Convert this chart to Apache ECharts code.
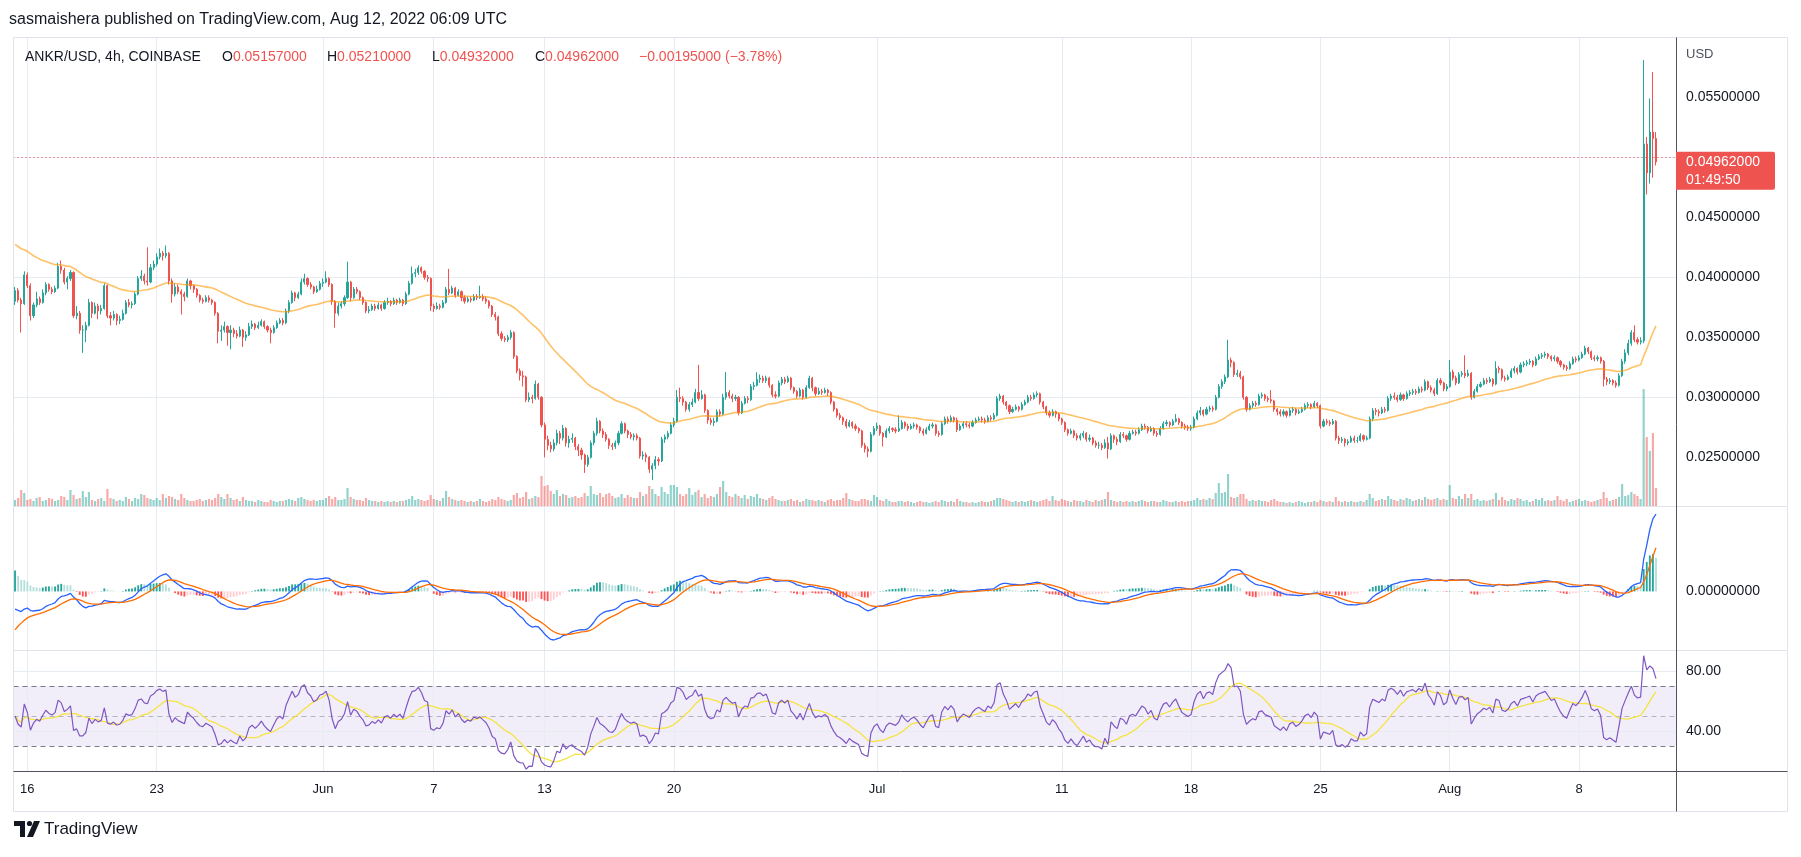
<!DOCTYPE html>
<html><head><meta charset="utf-8">
<script src="https://cdn.jsdelivr.net/npm/echarts@6.0.0/dist/echarts.min.js"></script>
<style>html,body{margin:0;padding:0;background:#fff;}#c{width:1801px;height:857px;}</style>
</head><body><div id="c"></div>
<script>
// ---------------- DATA (prices in 1e-5 USD, 4h candles from 2022-05-15 08:00 UTC) ----------------
const startUTC = '2022-05-15T08:00:00Z';
const firstOpen = 3800;
const closes = [
3890,3810,3780,4020,
3930,3680,3770,3820,3790,3870, 3940,3900,3880,3910,4090,4060, 3960,3990,4040,3680,3700,3560,
3560,3600,3790,3700,3760,3720, 3740,3930,3680,3660,3690,3640, 3650,3700,3790,3770,3780,3860,
3990,4010,3970,3960,4080,4110, 4170,4200,4180,4200,3970,3860, 3920,3880,3860,3840,3970,3930,
3900,3850,3810,3800,3830,3810, 3790,3700,3550,3560,3590,3540, 3560,3530,3510,3560,3500,3520,
3590,3610,3580,3600,3630,3590, 3560,3540,3580,3620,3640,3620, 3720,3790,3870,3830,3860,3960,
3990,3940,3920,3880,3900,3950,
3960,3990,3940,3800,3700,3760, 3780,3830,3960,3830,3900,3880, 3830,3790,3720,3730,3760,3740,
3770,3740,3790,3800,3780,3810, 3790,3810,3780,3860,3950,4030, 4040,4080,4050,4000,3990,3760,
3740,3760,3750,3790,3900,3870, 3910,3850,3880,3830,3800,3820, 3810,3840,3830,3840,3820,3800,
3760,3690,3670,3530,3490,3480, 3500,3540,3340,3220,3180,3170, 2980,3000,2990,3110,3000,2770,
2650,2600,2570,2620,2700,2660, 2740,2620,2650,2660,2590,2560, 2520,2440,2500,2620,2700,2800,
2720,2690,2650,2600,2590,2620, 2700,2780,2720,2690,2670,2680, 2660,2510,2520,2500,2400,2430,
2480,2470,2650,2670,2700,2770, 2800,3000,2990,2960,2900,2940, 2960,3040,2990,3020,2890,2810,
2790,2800,2880,2860,3000,3040, 3010,2990,3000,2870,2950,2990, 2980,3090,3100,3150,3160,3140,
3160,3100,3020,3010,3120,3150, 3130,3160,3080,3050,3010,3060, 3000,3080,3160,3080,3030,3050,
3040,3060,3040,2960,2900,2850, 2830,2800,2760,2790,2760,2740, 2720,2600,2570,2550,2690,2740,
2760,2700,2670,2720,2740,2730, 2720,2740,2790,2760,2740,2760, 2770,2750,2720,2700,2730,2760,
2770,2700,2690,2780,2820,2800, 2830,2810,2730,2760,2780,2770, 2760,2790,2810,2820,2810,2800,
2830,2820,2850,2990,3010,2960, 2930,2880,2900,2920,2900,2940, 2960,3000,2990,3020,3030,2960,
2920,2870,2850,2880,2860,2820, 2790,2730,2700,2720,2680,2660, 2680,2700,2650,2660,2620,2600,
2600,2580,2620,2570,2680,2650, 2630,2690,2680,2650,2700,2710, 2700,2730,2760,2750,2720,2740,
2700,2690,2740,2780,2790,2770, 2800,2820,2790,2760,2750,2740, 2750,2820,2870,2890,2860,2900,
2910,2900,3000,3090,3130,3170, 3310,3290,3190,3200,3170,3000, 2900,2930,2950,2940,3010,3020,
2990,2980,2970,2900,2880,2860, 2880,2850,2890,2900,2870,2880, 2900,2930,2940,2920,2950,2930,
2760,2800,2790,2780,2800,2660, 2640,2650,2620,2630,2660,2640, 2640,2680,2650,2660,2820,2890,
2880,2870,2900,2890,2990,3010, 3000,2980,3020,2990,3030,3040, 3050,3040,3070,3060,3130,3080,
3060,3030,3140,3120,3070,3090,
3210,3160,3120,3190,3200,3180, 3200,3000,3050,3090,3110,3140, 3130,3150,3110,3240,3230,3160,
3150,3170,3220,3240,3210,3270, 3280,3290,3300,3270,3320,3340, 3350,3360,3340,3320,3330,3300,
3270,3250,3240,3280,3320,3310, 3330,3360,3410,3380,3330,3320, 3330,3300,3150,3130,3140,3120,
3100,3180,3300,3370,3450,3540, 3480,3460,3470,5110,4870,5210,
5157,4962];
const highs = [
3920,3910,3830,4050,
4040,3950,3790,3880,3840,3900, 3960,3950,3920,3930,4120,4140, 4080,4010,4060,4050,3760,3720,
3600,3630,3820,3800,3790,3780, 3770,3950,3940,3710,3720,3700, 3680,3730,3810,3820,3800,3880,
4010,4060,4030,4250,4110,4140, 4200,4240,4220,4265,4210,3990, 3950,3940,3900,3880,3990,3980,
3940,3910,3860,3830,3850,3850, 3820,3800,3710,3600,3630,3600, 3600,3580,3560,3590,3570,3550,
3620,3640,3620,3630,3650,3640, 3600,3580,3600,3640,3660,3660, 3740,3810,3890,3880,3880,3990,
4030,4000,3960,3930,3930,3970,
3990,4050,4000,3950,3810,3790, 3800,3850,4130,3970,3920,3920, 3890,3840,3800,3760,3780,3780,
3790,3780,3810,3830,3810,3830, 3820,3830,3820,3880,3970,4090, 4070,4100,4090,4060,4020,4000,
3780,3790,3780,3810,3920,4070, 3930,3920,3900,3890,3850,3840, 3840,3860,3860,3930,3860,3840,
3810,3770,3710,3680,3550,3510, 3520,3560,3550,3350,3240,3220, 3180,3040,3020,3140,3120,3010,
2790,2680,2630,2650,2730,2720, 2770,2750,2680,2700,2670,2610, 2580,2530,2520,2640,2720,2830,
2810,2740,2710,2660,2620,2640, 2720,2800,2790,2730,2710,2700, 2700,2670,2550,2540,2510,2450,
2510,2500,2670,2690,2720,2790, 2830,3060,3080,3010,2970,2960, 2990,3070,3270,3060,3030,2900,
2830,2830,2900,2900,3030,3210, 3060,3030,3020,3010,2970,3010, 3010,3110,3130,3210,3190,3180,
3180,3170,3110,3050,3140,3170, 3170,3180,3170,3090,3060,3080, 3070,3100,3180,3170,3090,3080,
3070,3080,3070,3050,2970,2910, 2870,2840,2820,2810,2800,2780, 2750,2730,2620,2590,2710,2760,
2790,2770,2710,2740,2760,2750, 2750,2850,2810,2800,2780,2780, 2790,2780,2760,2740,2750,2780,
2790,2780,2720,2800,2840,2840, 2850,2840,2830,2780,2800,2800, 2790,2810,2830,2840,2840,2830,
2850,2850,2870,3010,3030,3020, 2970,2940,2920,2940,2930,2960, 2980,3020,3020,3040,3050,3040,
2970,2930,2890,2900,2890,2870, 2830,2800,2740,2740,2730,2700, 2700,2720,2710,2690,2670,2640,
2630,2620,2650,2670,2700,2690, 2670,2710,2710,2690,2720,2730, 2730,2750,2780,2780,2760,2760,
2750,2720,2760,2800,2810,2800, 2820,2860,2830,2800,2780,2770, 2770,2840,2890,2920,2900,2920,
2930,2930,3020,3110,3150,3190, 3480,3330,3300,3230,3220,3180, 3010,2950,2970,2970,3030,3040,
3030,3010,3060,2980,2910,2900, 2900,2890,2910,2920,2910,2900, 2920,2950,2960,2950,2970,2960,
2940,2820,2820,2810,2820,2810, 2680,2670,2660,2650,2680,2680, 2670,2700,2690,2680,2840,2910,
2910,2900,2920,2920,3010,3030, 3040,3020,3040,3030,3050,3060, 3070,3070,3090,3090,3150,3140,
3100,3080,3160,3160,3130,3110,
3310,3230,3180,3210,3220,3350, 3230,3210,3070,3110,3130,3160, 3160,3170,3160,3300,3260,3240,
3180,3190,3240,3260,3250,3290, 3300,3310,3320,3310,3340,3360, 3370,3380,3370,3350,3350,3340,
3310,3280,3270,3300,3340,3340, 3350,3380,3430,3420,3390,3350, 3350,3340,3310,3170,3160,3150,
3140,3200,3320,3400,3480,3560, 3600,3500,3500,5810,5170,5490,
5710,5210];
const lows = [
3770,3790,3540,3770,
3910,3640,3660,3750,3770,3780, 3850,3880,3860,3870,3900,4030, 3940,3900,3970,3660,3650,3530,
3370,3460,3590,3660,3690,3650, 3690,3730,3660,3600,3640,3600, 3610,3640,3690,3750,3740,3770,
3850,3970,3940,3930,3950,4060, 4090,4150,4140,4160,3940,3790, 3840,3860,3690,3800,3830,3900,
3870,3830,3790,3780,3790,3790, 3770,3680,3450,3470,3540,3430, 3400,3500,3490,3500,3420,3470,
3510,3570,3560,3570,3590,3570, 3540,3450,3530,3570,3610,3600, 3610,3700,3780,3800,3820,3850,
3940,3920,3900,3860,3870,3890,
3920,3950,3920,3770,3580,3680, 3740,3760,3820,3800,3820,3860, 3810,3770,3700,3700,3720,3720,
3730,3720,3730,3770,3760,3770, 3770,3780,3760,3770,3850,3940, 4000,4020,4030,3980,3960,3720,
3710,3730,3730,3740,3780,3850, 3860,3830,3840,3800,3780,3790, 3790,3800,3810,3820,3800,3780,
3740,3670,3640,3510,3470,3460, 3460,3480,3320,3200,3140,3090, 2960,2960,2950,2980,2980,2750,
2500,2560,2540,2550,2600,2610, 2640,2590,2580,2620,2560,2510, 2480,2370,2420,2490,2600,2680,
2700,2660,2630,2570,2560,2570, 2600,2690,2700,2660,2650,2640, 2640,2490,2480,2460,2370,2310,
2400,2430,2460,2620,2650,2690, 2750,2790,2960,2930,2880,2880, 2920,2950,2970,2980,2870,2780,
2770,2760,2790,2840,2850,2980, 2990,2960,2970,2850,2860,2940, 2950,2970,3060,3090,3120,3120,
3120,3080,3000,2990,3000,3100, 3110,3120,3060,3030,2990,3000, 2980,2990,3070,3050,3010,3020,
3020,3030,3010,2940,2880,2830, 2810,2770,2740,2750,2740,2720, 2700,2580,2540,2500,2540,2680,
2720,2680,2590,2660,2700,2710, 2700,2710,2730,2740,2720,2730, 2740,2730,2700,2680,2690,2720,
2740,2680,2670,2680,2770,2780, 2790,2790,2710,2720,2740,2750, 2740,2750,2780,2800,2790,2780,
2790,2800,2810,2840,2970,2940, 2900,2860,2870,2890,2880,2890, 2930,2950,2970,2980,3000,2940,
2900,2850,2830,2840,2830,2800, 2770,2710,2680,2690,2660,2640, 2640,2660,2630,2630,2600,2580,
2570,2560,2570,2490,2560,2620, 2600,2620,2660,2630,2640,2690, 2680,2690,2720,2730,2700,2710,
2680,2670,2680,2730,2760,2750, 2760,2790,2770,2740,2730,2720, 2720,2740,2810,2850,2840,2850,
2880,2880,2890,2990,3070,3110, 3160,3250,3170,3170,3150,2980, 2880,2890,2910,2920,2930,2990,
2970,2960,2950,2880,2850,2840, 2840,2830,2840,2870,2850,2860, 2870,2890,2910,2900,2910,2910,
2740,2750,2770,2760,2770,2640, 2610,2620,2590,2600,2620,2620, 2620,2630,2630,2640,2650,2800,
2850,2840,2860,2870,2880,2970, 2980,2960,2970,2970,2980,3010, 3020,3020,3030,3040,3050,3060,
3040,3010,3020,3100,3050,3050,
3080,3140,3100,3110,3170,3160, 3170,2980,2990,3040,3080,3100, 3110,3120,3090,3100,3200,3140,
3130,3140,3160,3200,3190,3200, 3250,3260,3270,3250,3260,3310, 3320,3330,3320,3300,3300,3280,
3250,3230,3220,3230,3270,3290, 3300,3320,3350,3360,3310,3300, 3300,3280,3090,3100,3110,3100,
3080,3090,3170,3280,3350,3430, 3460,3440,3440,3450,4690,4780,
4830,4932];
const volumes = [
6,8,16,13,
6,7,5,8,9,5, 6,8,7,5,6,10, 9,6,16,11,7,8, 15,9,14,6,5,7, 8,5,17,8,7,5, 6,5,9,7,5,8,
7,12,11,8,7,6, 8,6,12,8,10,9, 7,6,12,8,6,5, 5,6,7,5,6,7, 6,8,12,9,7,12, 8,6,7,5,9,6,
5,5,4,6,5,4, 4,6,5,4,5,5, 6,7,6,5,8,9, 7,6,5,6,5,6,
6,8,10,7,9,6, 6,7,18,9,7,6, 6,5,8,6,5,5, 4,5,4,5,4,5, 4,5,5,6,7,10, 6,7,6,5,6,11,
7,6,5,8,15,9, 7,6,5,6,5,4, 5,4,5,7,5,4, 5,7,6,9,7,6, 5,6,11,13,8,9, 14,7,8,10,9,30,
20,21,15,12,16,10, 12,11,8,9,10,8, 9,13,10,20,12,11, 13,9,12,13,10,8, 9,12,8,11,9,8,
8,14,10,12,20,17, 12,10,19,14,12,21, 21,19,12,10,12,18, 11,14,16,9,12,8, 10,9,12,19,25,14,
10,9,12,10,8,11, 7,10,9,12,8,7, 6,8,10,7,6,5, 5,6,7,5,6,4, 5,7,6,6,5,6, 5,4,6,7,5,6,
6,8,13,7,6,5, 5,7,7,6,5,11,
9,6,5,7,5,4, 4,5,5,4,5,4, 3,4,5,4,4,3, 4,5,4,6,5,4, 5,4,7,5,4,4, 3,4,3,4,5,4,
4,5,6,8,8,7, 6,5,4,5,4,5, 4,5,6,5,4,5, 6,7,5,10,6,5, 7,6,5,4,6,5, 5,4,6,5,4,6,
5,6,7,14,6,5, 4,5,4,5,4,5, 4,5,6,5,4,5, 5,4,4,6,5,4, 4,5,4,5,4,5, 5,6,8,6,7,6,
8,7,13,23,13,14, 32,9,8,9,12,12, 7,5,6,5,6,5, 5,4,6,7,5,4, 4,3,4,3,4,5, 4,3,4,4,5,4,
6,5,4,5,4,9, 5,4,5,4,5,4, 4,5,4,6,12,8, 5,6,7,6,10,7, 6,5,7,6,8,7, 5,6,7,6,9,7,
6,7,8,6,7,6,
21,8,7,10,7,12, 8,12,6,7,5,6, 5,6,7,13,6,9, 6,5,7,6,8,7, 5,6,4,5,7,6, 8,5,6,5,6,10,
6,5,7,4,5,6, 7,5,6,5,4,5, 6,7,14,8,5,6, 7,9,22,10,11,14, 12,10,7,117,69,55,
73,18];
const tickDates  = ['2022-05-16','2022-05-23','2022-06-01','2022-06-07','2022-06-13','2022-06-20','2022-07-01','2022-07-11','2022-07-18','2022-07-25','2022-08-01','2022-08-08'];
const tickLabels = ['16','23','Jun','7','13','20','Jul','11','18','25','Aug','8'];
const priceTicks = [0.025,0.030,0.035,0.040,0.045,0.050,0.055];
const rsiTicks = [80, 40];
const rsiBands = [70, 50, 30];
// indicator state at the first visible candle
const emaLen = 50, emaStart = 0.04275;
const macdFastStart = 0.04000, macdSlowStart = 0.04103, macdSignalStart = -0.00224;
const rsiGainStart = 0.00025, rsiLossStart = 0.00025;
const headerText = 'sasmaishera published on TradingView.com, Aug 12, 2022 06:09 UTC';
const symbolText = 'ANKR/USD, 4h, COINBASE';
const countdown = '01:49:50';

// ---------------- BUILD ----------------
const FONT = '"Liberation Sans", Arial, sans-serif';
const N = closes.length;
const S = 1e5;
const C = closes.map(v => v / S), H = highs.map(v => v / S), L = lows.map(v => v / S);
const O = C.map((v, i) => i === 0 ? firstOpen / S : C[i - 1]);
const FUTURE = 6, STEP = 4 * 3600 * 1000, t0 = Date.parse(startUTC);
const cats = [];
for (let k = 0; k < N + FUTURE; k++) cats.push(new Date(t0 + k * STEP).toISOString().slice(0, 16).replace('T', ' '));
const tickCats = tickDates.map(d => d + ' 00:00');
const tickMap = new Map(tickCats.map((c, j) => [cats.indexOf(c), tickLabels[j]]));

const ema = [];
for (let i = 0; i < N; i++) ema.push(i === 0 ? emaStart : ema[i - 1] + 2 / (emaLen + 1) * (C[i] - ema[i - 1]));
const macd = [], signal = [], hist = [];
let f = macdFastStart, s = macdSlowStart, sg = macdSignalStart;
for (let i = 0; i < N; i++) {
  if (i > 0) { f += 2 / 13 * (C[i] - f); s += 2 / 27 * (C[i] - s); }
  const m = f - s;
  if (i > 0) sg += 2 / 10 * (m - sg);
  macd.push(m); signal.push(sg); hist.push(m - sg);
}
const rsi = [];
let g = rsiGainStart, l = rsiLossStart;
for (let i = 0; i < N; i++) {
  if (i > 0) { const ch = C[i] - C[i - 1]; g = (g * 13 + Math.max(ch, 0)) / 14; l = (l * 13 + Math.max(-ch, 0)) / 14; }
  rsi.push(100 - 100 / (1 + g / l));
}
const rsiMa = rsi.map((v, i) => { const a = rsi.slice(Math.max(0, i - 13), i + 1); return a.reduce((p, q) => p + q, 0) / a.length; });

// pane geometry
const gridL = 13.5, gridR = 125;
const priceTop = 37, priceH = 469, macdTop = 506, macdH = 144, rsiTop = 650, rsiH = 121;
const priceMax = 0.060025, priceMin = 0.0209417;
const rsiMax = 94, rsiMin = 13.3333;
const allM = macd.concat(signal, hist);
const mx = Math.max(...allM), mn = Math.min(...allM);
const perPx = (mx - mn) / (macdH - 18);
const macdMax = mx + 8 * perPx, macdMin = mn - 10 * perPx;

const gridColor = '#E6ECF2';
const vLines = tickCats.map(c => ({ xAxis: c }));
const baseML = { silent: true, symbol: 'none', z: 0, animation: false, label: { show: false }, emphasis: { disabled: true }, lineStyle: { color: gridColor, type: 'solid', width: 1 } };

const xBase = { type: 'category', data: cats, boundaryGap: true, axisLine: { show: false }, axisTick: { show: false }, axisLabel: { show: false }, splitLine: { show: false } };
const up = i => C[i] >= O[i];

const option = {
  animation: false,
  textStyle: { fontFamily: FONT },
  grid: [
    { left: gridL, right: gridR, top: priceTop, height: priceH, outerBoundsMode: 'none' },
    { left: gridL, right: gridR, top: priceTop, height: priceH, outerBoundsMode: 'none' },
    { left: gridL, right: gridR, top: macdTop, height: macdH, outerBoundsMode: 'none' },
    { left: gridL, right: gridR, top: rsiTop, height: rsiH, outerBoundsMode: 'none' }
  ],
  xAxis: [
    Object.assign({}, xBase, { gridIndex: 0 }),
    Object.assign({}, xBase, { gridIndex: 1 }),
    Object.assign({}, xBase, { gridIndex: 2 }),
    Object.assign({}, xBase, { gridIndex: 3, axisLabel: { show: true, interval: (i) => tickMap.has(i), formatter: (v, i) => tickMap.get(i) || '', color: '#131722', fontSize: 13, fontFamily: FONT, margin: 12 } })
  ],
  yAxis: [
    { gridIndex: 0, type: 'value', min: priceMin, max: priceMax, show: false },
    { gridIndex: 1, type: 'value', min: 0, max: priceH, show: false },
    { gridIndex: 2, type: 'value', min: macdMin, max: macdMax, show: false },
    { gridIndex: 3, type: 'value', min: rsiMin, max: rsiMax, show: false }
  ],
  series: [
    { type: 'bar', name: 'Volume', xAxisIndex: 1, yAxisIndex: 1, silent: true, z: 1, barWidth: '70%',
      data: volumes.map((v, i) => ({ value: v, itemStyle: { color: up(i) ? 'rgba(38,166,154,0.5)' : 'rgba(239,83,80,0.5)' } })),
      markLine: Object.assign({}, baseML, { data: vLines }) },
    { type: 'line', name: 'EMA', xAxisIndex: 0, yAxisIndex: 0, data: ema, showSymbol: false, silent: true, z: 4,
      lineStyle: { color: 'rgba(255,152,0,0.6)', width: 1.6 },
      markLine: Object.assign({}, baseML, { data: priceTicks.map(v => ({ yAxis: v })) }) },
    { type: 'candlestick', name: 'ANKR', xAxisIndex: 0, yAxisIndex: 0, silent: true, z: 3, barWidth: 1.6,
      data: C.map((c, i) => [O[i], c, L[i], H[i]]),
      itemStyle: { color: '#26A69A', color0: '#EF5350', borderColor: '#26A69A', borderColor0: '#EF5350', borderWidth: 1 },
      markLine: { silent: true, symbol: 'none', z: 5, animation: false, label: { show: false }, lineStyle: { color: '#EF5350', type: [1, 3], width: 1 }, data: [{ yAxis: C[N - 1] }] } },
    { type: 'bar', name: 'Histogram', xAxisIndex: 2, yAxisIndex: 2, silent: true, z: 2, barWidth: '60%',
      data: hist.map((h, i) => {
        const prev = i > 0 ? hist[i - 1] : h;
        const col = h >= 0 ? (h >= prev ? '#26A69A' : '#B2DFDB') : (h >= prev ? '#FFCDD2' : '#FF5252');
        return { value: h, itemStyle: { color: col } };
      }),
      markLine: Object.assign({}, baseML, { data: vLines }) },
    { type: 'line', name: 'MACD', xAxisIndex: 2, yAxisIndex: 2, data: macd, showSymbol: false, silent: true, z: 3, lineStyle: { color: '#2962FF', width: 1.3 } },
    { type: 'line', name: 'Signal', xAxisIndex: 2, yAxisIndex: 2, data: signal, showSymbol: false, silent: true, z: 3, lineStyle: { color: '#FF6D00', width: 1.3 } },
    { type: 'line', name: 'RSI', xAxisIndex: 3, yAxisIndex: 3, data: rsi, showSymbol: false, silent: true, z: 4, lineStyle: { color: '#7E57C2', width: 1.2 },
      markArea: { silent: true, z: 0, itemStyle: { color: 'rgba(126,87,194,0.1)' }, data: [[{ yAxis: rsiBands[0] }, { yAxis: rsiBands[2] }]] },
      markLine: Object.assign({}, baseML, { data: vLines.concat(rsiTicks.map(v => ({ yAxis: v })), [
        { yAxis: rsiBands[0], lineStyle: { color: '#787B86', type: [5, 4], width: 1 } },
        { yAxis: rsiBands[1], lineStyle: { color: 'rgba(120,123,134,0.5)', type: [5, 4], width: 1 } },
        { yAxis: rsiBands[2], lineStyle: { color: '#787B86', type: [5, 4], width: 1 } }
      ]) }) },
    { type: 'line', name: 'RSI MA', xAxisIndex: 3, yAxisIndex: 3, data: rsiMa, showSymbol: false, silent: true, z: 3, lineStyle: { color: '#F5E342', width: 1.3 } }
  ]
};

const chart = echarts.init(document.getElementById('c'), null, { renderer: 'canvas' });
chart.setOption(option);

// ---------------- TEXT / FRAME ----------------
const ctx = document.createElement('canvas').getContext('2d');
const tw = (t, font) => { ctx.font = font; return ctx.measureText(t).width; };
const txt = (x, y, text, fill, size, extra) => Object.assign({ type: 'text', x, y, silent: true, z: 60,
  style: { text, fill, font: size + 'px ' + FONT, align: 'left', verticalAlign: 'middle', textAlign: 'left', textVerticalAlign: 'middle' } }, extra || {});
const ln = (x1, y1, x2, y2, stroke) => ({ type: 'line', silent: true, z: 50, shape: { x1, y1, x2, y2 }, style: { stroke, lineWidth: 1 } });
const fmt8 = v => v.toFixed(8);
const gfx = [];
// frame
const FR = '#E0E3EB', DK = '#50535E';
gfx.push(ln(13.5, 37.5, 1787.5, 37.5, FR), ln(13.5, 811.5, 1787.5, 811.5, FR), ln(13.5, 37.5, 13.5, 811.5, FR), ln(1787.5, 37.5, 1787.5, 811.5, FR));
gfx.push(ln(13.5, 506.5, 1787.5, 506.5, FR), ln(13.5, 650.5, 1787.5, 650.5, FR));
gfx.push(ln(13.5, 771.5, 1787.5, 771.5, DK), ln(1676.5, 37.5, 1676.5, 811.5, DK));
// header
gfx.push(txt(9, 20, headerText, '#131722', 16));
// legend
const lastI = N - 1, red = C[lastI] < O[lastI] ? '#EF5350' : '#26A69A';
const lf = '14px ' + FONT;
gfx.push(txt(25, 57.5, symbolText, '#131722', 14));
const chg = C[lastI] - C[lastI - 1], pct = chg / C[lastI - 1] * 100;
const sgn = v => (v < 0 ? '\u2212' : '+');
[['O', O[lastI], 222], ['H', H[lastI], 327], ['L', L[lastI], 432], ['C', C[lastI], 535]].forEach(([k, v, x]) => {
  gfx.push(txt(x, 57.5, k, '#131722', 14));
  gfx.push(txt(x + tw(k, lf), 57.5, fmt8(v), red, 14));
});
gfx.push(txt(639, 57.5, sgn(chg) + fmt8(Math.abs(chg)) + ' (' + sgn(chg) + Math.abs(pct).toFixed(2) + '%)', red, 14));
// price scale (labels hidden where the last-price tag sits)
const yLast = chart.convertToPixel({ yAxisIndex: 0 }, C[lastI]);
gfx.push(txt(1686, 54, 'USD', '#50535E', 13));
priceTicks.forEach(v => {
  const y = chart.convertToPixel({ yAxisIndex: 0 }, v);
  if (y > yLast - 20 && y < yLast + 36) return;
  gfx.push(txt(1686, y, fmt8(v), '#131722', 14));
});
gfx.push(txt(1686, chart.convertToPixel({ yAxisIndex: 2 }, 0), fmt8(0), '#131722', 14));
rsiTicks.forEach(v => gfx.push(txt(1686, chart.convertToPixel({ yAxisIndex: 3 }, v), v.toFixed(2), '#131722', 14)));
// last price tag
gfx.push({ type: 'rect', silent: true, z: 70, shape: { x: 1676, y: yLast - 10, width: 99, height: 38, r: [0, 2, 2, 0] }, style: { fill: red } });
gfx.push(txt(1686, yLast, fmt8(C[lastI]), '#FFFFFF', 14, { z: 71 }));
gfx.push(txt(1686, yLast + 18, countdown, '#FFFFFF', 14, { z: 71 }));
// TradingView footer logo
gfx.push({ type: 'polygon', silent: true, z: 60, shape: { points: [[14, 821], [25, 821], [25, 837], [20, 837], [20, 826], [14, 826]] }, style: { fill: '#131722' } });
gfx.push({ type: 'circle', silent: true, z: 60, shape: { cx: 29.5, cy: 823.5, r: 2.6 }, style: { fill: '#131722' } });
gfx.push({ type: 'polygon', silent: true, z: 60, shape: { points: [[34, 821], [40, 821], [33, 837], [27, 837]] }, style: { fill: '#131722' } });
gfx.push(txt(44, 829, 'TradingView', '#131722', 17));

if ([highs.length, lows.length, volumes.length].some(n => n !== N)) {
  gfx.push(txt(600, 20, 'LEN MISMATCH ' + [N, highs.length, lows.length, volumes.length].join(','), '#ff0000', 20));
}
chart.setOption({ graphic: { elements: gfx } });
</script>
</body></html>
